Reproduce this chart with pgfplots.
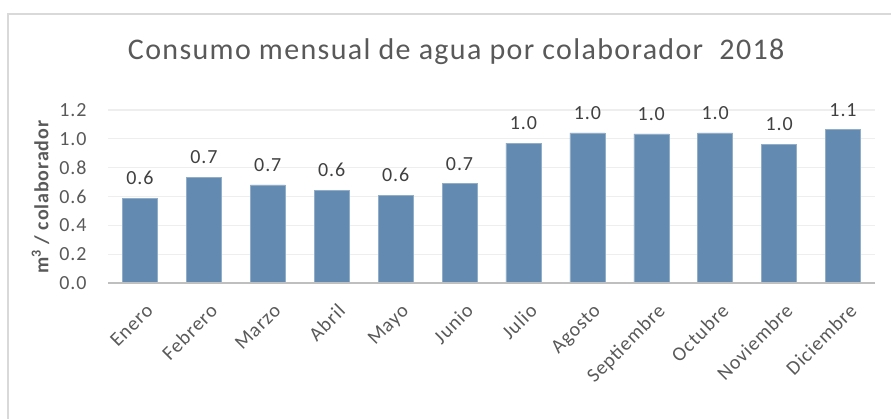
\documentclass[border=0pt]{standalone}
\usepackage{pgfplots}
\pgfplotsset{compat=1.18}
\usepackage{fontspec}
\setmainfont{Carlito}[LetterSpace=4.5]
\definecolor{barblue}{RGB}{99,138,176}
\definecolor{txtgray}{RGB}{89,89,89}
\definecolor{lblgray}{RGB}{64,64,64}
\definecolor{gridgray}{RGB}{238,238,238}
\definecolor{axisgray}{RGB}{191,191,191}
\definecolor{framegray}{RGB}{217,217,217}
\begin{document}
\begin{tikzpicture}
\path[use as bounding box] (0,0) rectangle (891bp,419bp);
\draw[framegray, line width=2bp] (8bp,0) -- (8bp,405bp) -- (891bp,405bp);
\begin{axis}[
  at={(108bp,135.7bp)}, anchor=south west,
  scale only axis, width=767bp, height=173.3bp,
  xmin=-0.5, xmax=11.5, ymin=0, ymax=1.2,
  ytick={0,0.2,...,1.2},
  xtick={0,...,11},
  xticklabels={Enero,Febrero,Marzo,Abril,Mayo,Junio,Julio,Agosto,Septiembre,Octubre,Noviembre,Diciembre},
  axis line style={draw=none},
  axis x line*=bottom,
  major tick length=0pt,
  ymajorgrids, grid style={gridgray, line width=1.2bp},
  /pgf/number format/assume math mode=true,
  yticklabel style={/pgf/number format/.cd, fixed, precision=1, fixed zerofill, /tikz/.cd, font=\fontsize{20bp}{22bp}\selectfont, text=txtgray, xshift=-18bp},
  xticklabel style={rotate=45, anchor=north east, font=\fontsize{20bp}{22bp}\selectfont, text=txtgray, yshift=-17bp, xshift=-10bp, inner sep=0pt},
  ylabel={\textbf{m\textsuperscript{3} / colaborador}},
  ylabel style={at={(axis description cs:-0.088,0.5)}, anchor=center, rotate=0, font=\fontsize{20bp}{22bp}\selectfont, text=txtgray},
  title={Consumo mensual de agua por colaborador\ \ 2018},
  title style={at={(axis description cs:0.454,1.30)}, anchor=center, font=\fontsize{30bp}{34bp}\selectfont, text=txtgray},
  nodes near coords,
  nodes near coords style={/pgf/number format/.cd, fixed, precision=1, fixed zerofill, assume math mode=true, /tikz/.cd, font=\fontsize{20bp}{22bp}\selectfont, text=lblgray, inner sep=0pt, anchor=south, yshift=13bp},
  clip=false,
]
\addplot[ybar, bar width=35bp, fill=barblue, draw=barblue!70!white, line width=0.5bp] coordinates {
 (0,0.589) (1,0.736) (2,0.681) (3,0.646) (4,0.611) (5,0.690)
 (6,0.971) (7,1.041) (8,1.034) (9,1.041) (10,0.962) (11,1.064)
};
\draw[axisgray, line width=2bp] (axis cs:-0.5,0) -- (axis cs:11.5,0);
\end{axis}
\end{tikzpicture}
\end{document}
